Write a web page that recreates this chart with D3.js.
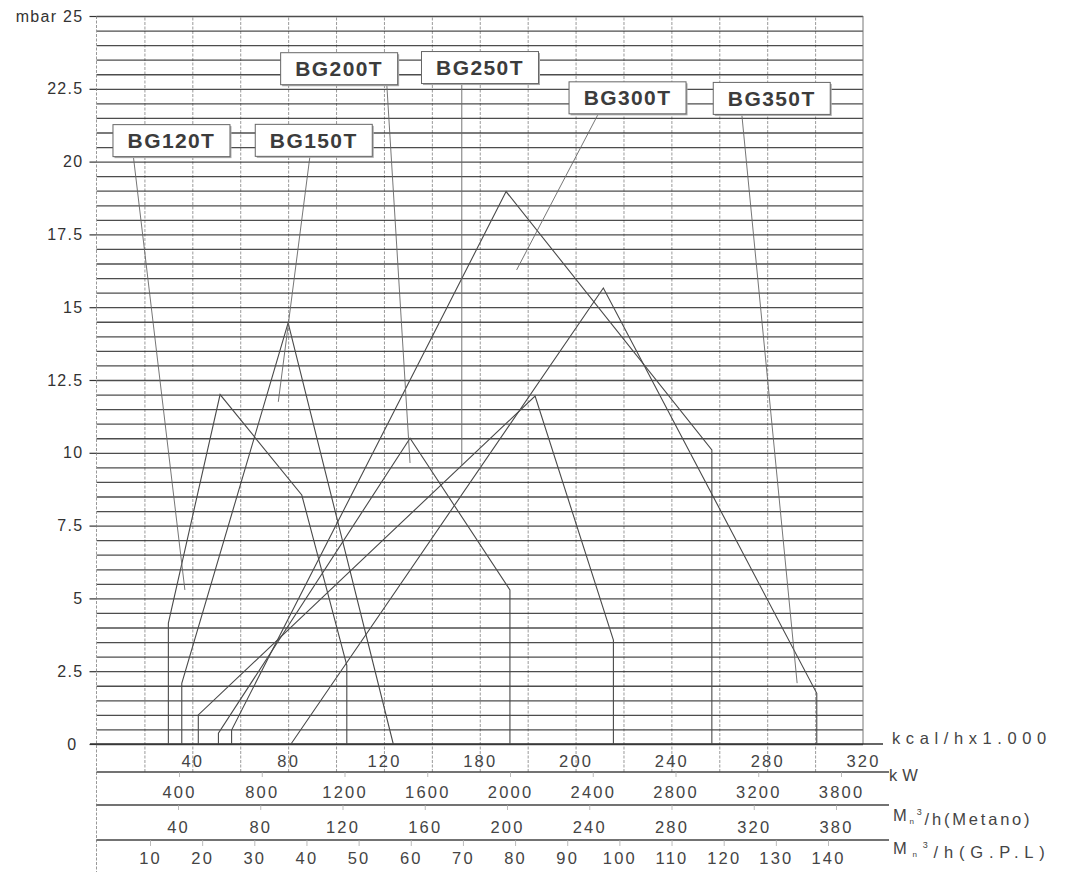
<!DOCTYPE html>
<html><head><meta charset="utf-8">
<script src="https://cdn.jsdelivr.net/npm/d3@7"></script>
<style>
html,body{margin:0;padding:0;background:#fff;}
svg{display:block;font-family:"Liberation Sans",Arial,sans-serif;}
</style></head><body>
<svg id="chart" width="1065" height="874"></svg>
<script>
// ---------- data ----------
const burnerNames = ["BG120T","BG150T","BG200T","BG250T","BG300T","BG350T"];
const bg120tKcal = [30.0, 30.0, 51.6, 85.7, 104.5, 104.5];
const bg120tMbar = [0, 4.15, 12.0, 8.55, 2.7, 0];
const bg150tKcal = [35.6, 35.6, 80.0, 123.9];
const bg150tMbar = [0, 2.08, 14.46, 0];
const bg200tKcal = [50.9, 50.9, 130.9, 172.6, 172.6];
const bg200tMbar = [0, 0.37, 10.5, 5.29, 0];
const bg250tKcal = [42.5, 42.5, 183.1, 215.8, 215.8];
const bg250tMbar = [0, 1.0, 11.95, 3.57, 0];
const bg300tKcal = [56.4, 56.4, 171.0, 256.9, 256.9];
const bg300tMbar = [0, 0.48, 18.97, 10.1, 0];
const bg350tKcal = [81.2, 211.6, 300.7, 300.7];
const bg350tMbar = [0, 15.66, 1.74, 0];

const mbarTicks = [0, 2.5, 5, 7.5, 10, 12.5, 15, 17.5, 20, 22.5, 25];
const mbarTickLabels = ["0","2.5","5","7.5","10","12.5","15","17.5","20","22.5","mbar 25"];
const kcalTickValues = [40, 80, 120, 160, 200, 240, 280, 320];
const kcalTickLabels = ["40","80","120","180","200","240","280","320"];
const kwTickValues = [400, 800, 1200, 1600, 2000, 2400, 2800, 3200, 3600];
const kwTickLabels = ["400","800","1200","1600","2000","2400","2800","3200","3800"];
const metanoTickValues = [40, 80, 120, 160, 200, 240, 280, 320, 360];
const metanoTickLabels = ["40","80","120","160","200","240","280","320","380"];
const gplTickValues = [10, 20, 30, 40, 50, 60, 70, 80, 90, 100, 110, 120, 130, 140];
const gplTickLabels = ["10","20","30","40","50","60","70","80","90","100","110","120","130","140"];

// annotation anchors (data units: kcal, mbar)
const labelCenterKcal = [31.3, 90.7, 101.3, 160.1, 221.7, 281.9];
const labelCenterMbar = [20.72, 20.73, 23.19, 23.23, 22.19, 22.17];
const leaderFromKcal = [15.4, 89.1, 121.2, 152.5, 209.5, 269.4];
const leaderToKcal = [36.9, 75.9, 130.9, 152.5, 175.4, 292.5];
const leaderToMbar = [5.29, 11.75, 9.65, 9.55, 16.28, 2.09];

const curvesKcal = [bg120tKcal, bg150tKcal, bg200tKcal, bg250tKcal, bg300tKcal, bg350tKcal];
const curvesMbar = [bg120tMbar, bg150tMbar, bg200tMbar, bg250tMbar, bg300tMbar, bg350tMbar];

// ---------- layout ----------
const L = 96.5, R = 863, T = 16, B = 744;
const rowLines = [772, 805, 840];
const svg = d3.select("#chart");

const x = d3.scaleLinear().domain([0, 320]).range([L, R]);
const y = d3.scaleLinear().domain([0, 25]).range([B, T]);
const kwX = d3.scaleLinear().domain([400, 3600]).range([179, 841]);
const metX = d3.scaleLinear().domain([40, 360]).range([178, 836]);
const gplX = d3.scaleLinear().domain([10, 140]).range([150, 828]);

// vertical grid (every 20 kcal)
const vg = svg.append("g").attr("transform", `translate(0,${rowLines[0]})`)
  .call(d3.axisBottom(x).tickValues(d3.range(20, 320, 20)).tickSize(-(rowLines[0] - T)).tickFormat(""));
vg.select(".domain").remove();
vg.selectAll("line").attr("stroke", "#8f8f8f").attr("stroke-width", 0.9).attr("stroke-dasharray", "3,1.5");

// horizontal grid every 0.5 mbar
const hg = svg.append("g").attr("transform", `translate(${L},0)`)
  .call(d3.axisLeft(y).tickValues(d3.range(0, 25.001, 0.5)).tickSize(-(R - L)).tickFormat(""));
hg.select(".domain").remove();
hg.selectAll("line").attr("stroke", "#2e2e2e").attr("stroke-width", 1.3).attr("opacity", 0.85);

// borders
svg.append("line").attr("x1", L).attr("x2", L).attr("y1", T).attr("y2", 872)
  .attr("stroke", "#999").attr("stroke-width", 1).attr("stroke-dasharray", "3,1.5");
svg.append("line").attr("x1", R).attr("x2", R).attr("y1", T).attr("y2", B)
  .attr("stroke", "#777").attr("stroke-width", 1);

// y axis labels + major ticks
const ya = svg.append("g").attr("transform", `translate(${L},0)`)
  .call(d3.axisLeft(y).tickValues(mbarTicks).tickSize(7).tickPadding(6)
    .tickFormat((d, i) => mbarTickLabels[i]));
ya.select(".domain").remove();
ya.selectAll("line").attr("stroke", "#333").attr("stroke-width", 1.2);
ya.selectAll("text").attr("font-size", 16).attr("fill", "#333").attr("letter-spacing", 1.3)
  .attr("font-family", "'Liberation Sans',Arial,sans-serif")
  .attr("dx", d => d === 0 ? -6 : 0);

// bottom axis line & row separators
svg.append("line").attr("x1", 90).attr("x2", 883).attr("y1", B).attr("y2", B)
  .attr("stroke", "#333").attr("stroke-width", 1.4);
rowLines.forEach(yy => {
  svg.append("line").attr("x1", L).attr("x2", 889).attr("y1", yy).attr("y2", yy)
    .attr("stroke", "#444").attr("stroke-width", 1.3);
});

// tick label rows
function rowAxis(scale, vals, labels, yLine, yText, tickLen) {
  const g = svg.append("g").attr("transform", `translate(0,${yLine})`)
    .call(d3.axisBottom(scale).tickValues(vals).tickSize(tickLen).tickPadding(0)
      .tickFormat((d, i) => labels[i]));
  g.select(".domain").remove();
  g.selectAll("line").attr("stroke", "#aaa").attr("stroke-width", 0.8);
  g.selectAll("text").attr("y", yText - yLine).attr("dy", "0.35em")
    .attr("font-size", 16.5).attr("fill", "#444").attr("letter-spacing", 2.2)
    .attr("font-family", "'Liberation Sans',Arial,sans-serif");
  return g;
}
rowAxis(x, kcalTickValues, kcalTickLabels, B, 761.5, 0);
rowAxis(kwX, kwTickValues, kwTickLabels, rowLines[0], 792, 5);
rowAxis(metX, metanoTickValues, metanoTickLabels, rowLines[1], 827, 5);
rowAxis(gplX, gplTickValues, gplTickLabels, rowLines[2], 858.5, 6);

// right-side unit labels
const unitFont = 16.5;
svg.append("text").attr("x", 892).attr("y", 738.5).attr("dy", "0.35em").attr("font-size", unitFont)
  .attr("fill", "#444").attr("letter-spacing", 5.6).text("kcal/hx1.000");
svg.append("text").attr("x", 889).attr("y", 775).attr("dy", "0.35em").attr("font-size", unitFont)
  .attr("fill", "#444").attr("letter-spacing", 5).text("kW");
function mUnit(yy, tail, ls) {
  const t = svg.append("text").attr("x", 893).attr("y", yy).attr("dy", "0.35em")
    .attr("font-size", unitFont).attr("fill", "#444").attr("letter-spacing", ls);
  t.append("tspan").text("M");
  t.append("tspan").attr("font-size", 8).attr("dy", "0.35em").text("n");
  t.append("tspan").attr("font-size", 9).attr("dy", "-0.95em").text("3");
  t.append("tspan").attr("dy", "0.6em").text(tail);
}
mUnit(815, "/h(Metano)", 2.8);
mUnit(848, "/h(G.P.L)", 5.8);

// curves
const line = d3.line().x(d => x(d[0])).y(d => y(d[1]));
svg.append("g").selectAll("path").data(curvesKcal.map((k, i) => d3.zip(k, curvesMbar[i])))
  .join("path").attr("d", line).attr("fill", "none").attr("stroke", "#4a4a4a").attr("stroke-width", 1.1);

// label boxes and leaders
const boxW = 117, boxH = 32;
const ann = svg.append("g");
burnerNames.forEach((name, i) => {
  const cx = x(labelCenterKcal[i]), cy = y(labelCenterMbar[i]);
  ann.append("line")
    .attr("x1", x(leaderFromKcal[i])).attr("y1", cy + boxH / 2)
    .attr("x2", x(leaderToKcal[i])).attr("y2", y(leaderToMbar[i]))
    .attr("stroke", "#666").attr("stroke-width", 0.9);
  ann.append("rect").attr("x", cx - boxW / 2 + 1.5).attr("y", cy - boxH / 2 + 1.5)
    .attr("width", boxW).attr("height", boxH).attr("fill", "#aaa");
  ann.append("rect").attr("x", cx - boxW / 2).attr("y", cy - boxH / 2)
    .attr("width", boxW).attr("height", boxH).attr("fill", "#fff")
    .attr("stroke", "#666").attr("stroke-width", 1);
  ann.append("text").attr("x", cx).attr("y", cy).attr("dy", "0.36em")
    .attr("text-anchor", "middle").attr("font-size", 21).attr("font-weight", "bold")
    .attr("letter-spacing", 1.4).attr("fill", "#3c3c3c").text(name);
});
</script>
</body></html>
